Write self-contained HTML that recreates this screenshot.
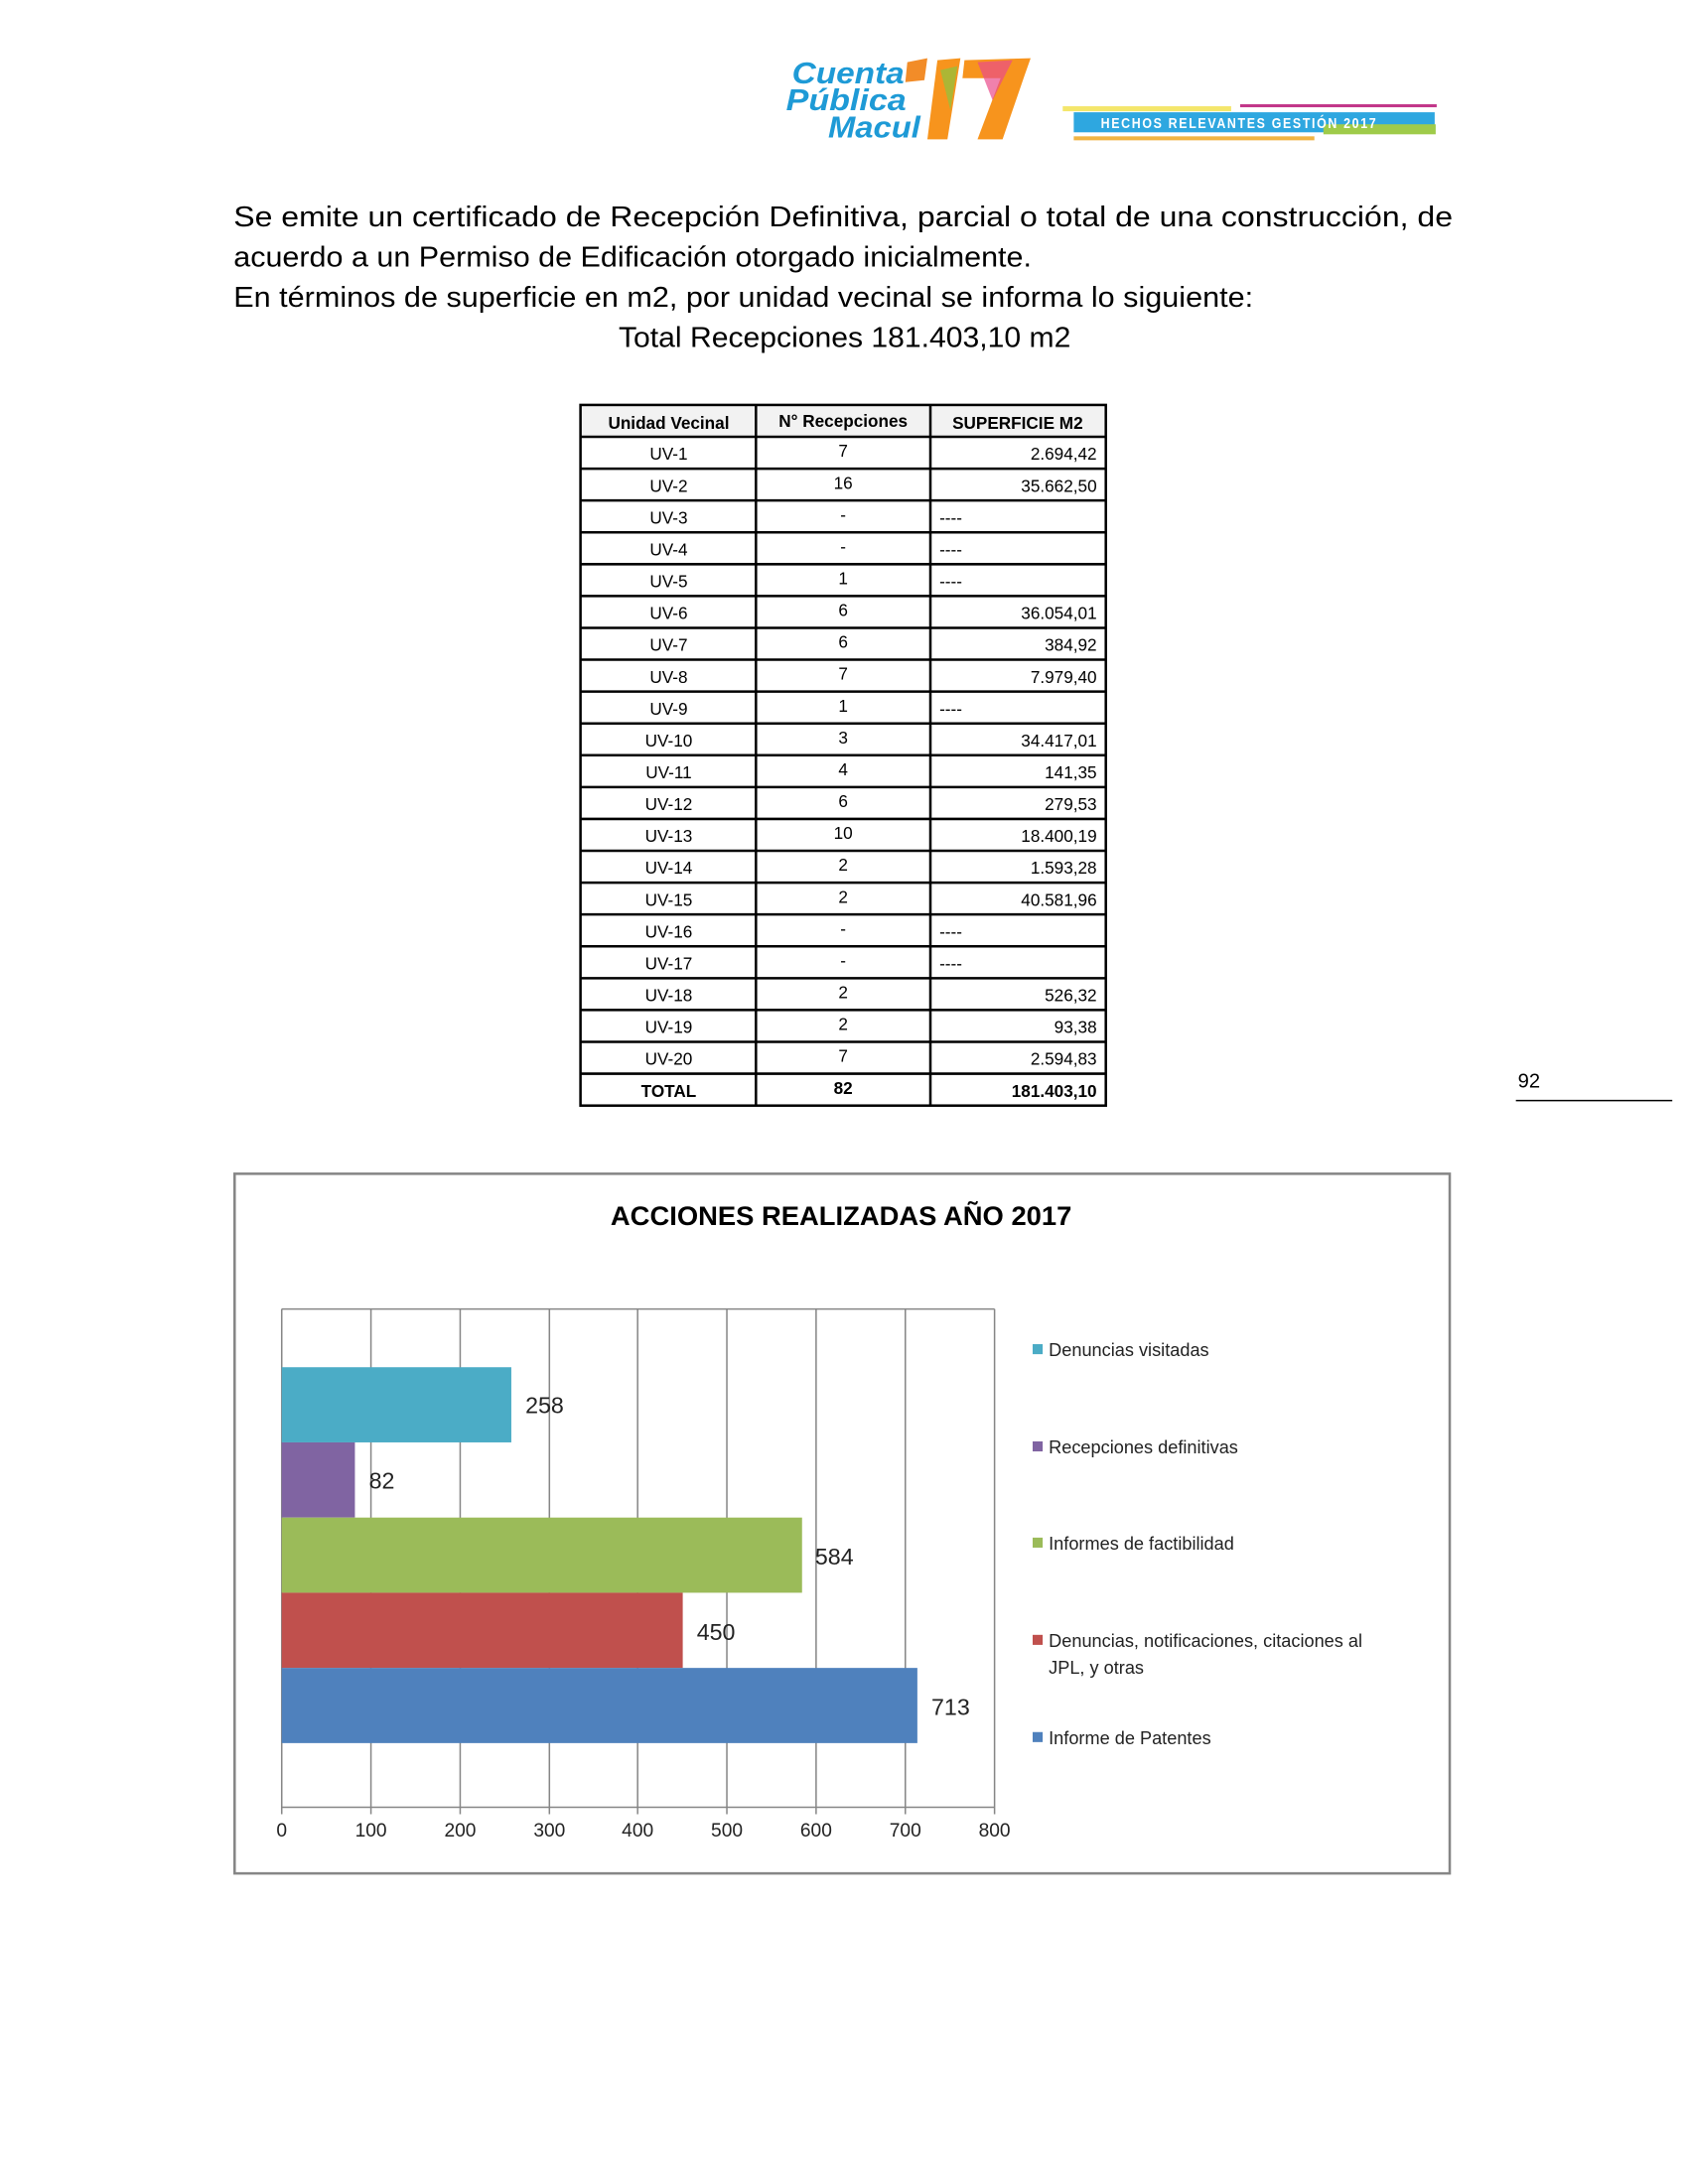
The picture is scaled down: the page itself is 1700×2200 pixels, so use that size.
<!DOCTYPE html>
<html><head><meta charset="utf-8"><style>
html,body{margin:0;padding:0;background:#fff;}
svg{display:block;}
</style></head><body>
<svg width="1700" height="2200" viewBox="0 0 1700 2200" xmlns="http://www.w3.org/2000/svg" font-family="Liberation Sans, sans-serif">
<rect width="1700" height="2200" fill="#fff"/>
<g transform="scale(1.0097)">
<!-- logo -->
<g font-family="Liberation Sans, sans-serif" font-weight="bold" font-style="italic" fill="#1e9ad6">
<text x="790" y="83" font-size="30" textLength="112" lengthAdjust="spacingAndGlyphs">Cuenta</text>
<text x="784" y="110" font-size="30" textLength="120" lengthAdjust="spacingAndGlyphs">Pública</text>
<text x="826" y="137" font-size="30" textLength="92" lengthAdjust="spacingAndGlyphs">Macul</text>
</g>
<path d="M905 62 L925 58 L922 80 L903 82 Z" fill="#f28c28"/>
<path d="M935 60 L958 58 L945 139 L925 139 Z" fill="#f7941d"/>
<path d="M962 60 L1028 58 L1022 75 L1000 139 L975 139 L998 78 L960 78 Z" fill="#f7941d"/>
<path d="M975 62 L1010 60 L990 100 Z" fill="#e94b8a" opacity="0.7"/>
<path d="M938 70 L955 66 L948 110 Z" fill="#8bc540" opacity="0.7"/>
<rect x="1060" y="106" width="168" height="5" fill="#f4e66b"/>
<rect x="1237" y="104" width="196" height="3" fill="#c2378a"/>
<rect x="1071" y="112" width="360" height="20" fill="#2ea7e0"/>
<rect x="1320" y="124" width="112" height="10" fill="#9fcb4a"/>
<rect x="1071" y="136" width="240" height="4" fill="#f0b444"/>
<text x="1098" y="128" font-size="15" fill="#fff" font-weight="bold" textLength="276" lengthAdjust="spacingAndGlyphs" letter-spacing="2">HECHOS RELEVANTES GESTIÓN 2017</text>
<!-- paragraph -->
<g font-size="28" fill="#000">
<text x="233" y="226" textLength="1216" lengthAdjust="spacingAndGlyphs">Se emite un certificado de Recepción Definitiva, parcial o total de una construcción, de</text>
<text x="233" y="266" textLength="796" lengthAdjust="spacingAndGlyphs">acuerdo a un Permiso de Edificación otorgado inicialmente.</text>
<text x="233" y="306" textLength="1017" lengthAdjust="spacingAndGlyphs">En términos de superficie en m2, por unidad vecinal se informa lo siguiente:</text>
<text x="617" y="346" textLength="451" lengthAdjust="spacingAndGlyphs">Total Recepciones 181.403,10 m2</text>
</g>
<!-- table -->
<rect x="580" y="405" width="522" height="31" fill="#f2f2f2"/>
<g font-size="17" fill="#000">
<text x="667" y="428" text-anchor="middle" font-weight="bold">Unidad Vecinal</text>
<text x="841" y="426" text-anchor="middle" font-weight="bold">N° Recepciones</text>
<text x="1015" y="428" text-anchor="middle" font-weight="bold">SUPERFICIE M2</text>
</g>
<g id="rows" font-size="17" fill="#000"></g>
<g stroke="#000" stroke-width="2.5" fill="none">
<rect x="579" y="404" width="524" height="699"/>
<line x1="754" y1="404" x2="754" y2="1103"/>
<line x1="928" y1="404" x2="928" y2="1103"/>
</g>
<g id="hlines" stroke="#000" stroke-width="2.5"></g>
<!-- page number -->
<text x="1514" y="1085" font-size="20">92</text>
<line x1="1512" y1="1098" x2="1668" y2="1098" stroke="#000" stroke-width="1.5"/>
<!-- chart -->
<rect x="234" y="1171" width="1212" height="698" fill="#fff" stroke="#868686" stroke-width="2.5"/>
<text x="839" y="1222" font-size="27" font-weight="bold" text-anchor="middle" textLength="460" lengthAdjust="spacingAndGlyphs">ACCIONES REALIZADAS AÑO 2017</text>
<g stroke="#868686" stroke-width="1.5">
<line x1="281" y1="1306" x2="992" y2="1306"/>
<line x1="370" y1="1306" x2="370" y2="1810"/>
<line x1="459" y1="1306" x2="459" y2="1810"/>
<line x1="548" y1="1306" x2="548" y2="1810"/>
<line x1="636" y1="1306" x2="636" y2="1810"/>
<line x1="725" y1="1306" x2="725" y2="1810"/>
<line x1="814" y1="1306" x2="814" y2="1810"/>
<line x1="903" y1="1306" x2="903" y2="1810"/>
<line x1="992" y1="1306" x2="992" y2="1810"/>
<line x1="281" y1="1306" x2="281" y2="1810"/>
<line x1="281" y1="1803" x2="992" y2="1803"/>
</g>
<rect x="281" y="1364" width="229" height="75" fill="#4bacc6"/>
<rect x="281" y="1439" width="73" height="75" fill="#8064a2"/>
<rect x="281" y="1514" width="519" height="75" fill="#9bbb59"/>
<rect x="281" y="1589" width="400" height="75" fill="#c0504d"/>
<rect x="281" y="1664" width="634" height="75" fill="#4f81bd"/>
<g font-size="23" fill="#222">
<text x="524" y="1410">258</text>
<text x="368" y="1485">82</text>
<text x="813" y="1561">584</text>
<text x="695" y="1636">450</text>
<text x="929" y="1711">713</text>
</g>
<g font-size="19" fill="#222" text-anchor="middle">
<text x="281" y="1832">0</text><text x="370" y="1832">100</text><text x="459" y="1832">200</text><text x="548" y="1832">300</text><text x="636" y="1832">400</text><text x="725" y="1832">500</text><text x="814" y="1832">600</text><text x="903" y="1832">700</text><text x="992" y="1832">800</text>
</g>
<g font-size="18" fill="#222">
<rect x="1030" y="1341" width="10" height="10" fill="#4bacc6"/><text x="1046" y="1353">Denuncias visitadas</text>
<rect x="1030" y="1438" width="10" height="10" fill="#8064a2"/><text x="1046" y="1450">Recepciones definitivas</text>
<rect x="1030" y="1534" width="10" height="10" fill="#9bbb59"/><text x="1046" y="1546">Informes de factibilidad</text>
<rect x="1030" y="1631" width="10" height="10" fill="#c0504d"/><text x="1046" y="1643">Denuncias, notificaciones, citaciones al</text>
<text x="1046" y="1670">JPL, y otras</text>
<rect x="1030" y="1728" width="10" height="10" fill="#4f81bd"/><text x="1046" y="1740">Informe de Patentes</text>
</g>
</g>
</svg>
<script>
(function(){
var d=[["UV-1","7","2.694,42"],["UV-2","16","35.662,50"],["UV-3","-","----"],["UV-4","-","----"],["UV-5","1","----"],["UV-6","6","36.054,01"],["UV-7","6","384,92"],["UV-8","7","7.979,40"],["UV-9","1","----"],["UV-10","3","34.417,01"],["UV-11","4","141,35"],["UV-12","6","279,53"],["UV-13","10","18.400,19"],["UV-14","2","1.593,28"],["UV-15","2","40.581,96"],["UV-16","-","----"],["UV-17","-","----"],["UV-18","2","526,32"],["UV-19","2","93,38"],["UV-20","7","2.594,83"],["TOTAL","82","181.403,10"]];
var ns="http://www.w3.org/2000/svg",g=document.getElementById("rows"),h=document.getElementById("hlines");
function t(x,y,s,a,b){var e=document.createElementNS(ns,"text");e.setAttribute("x",x);e.setAttribute("y",y);e.setAttribute("text-anchor",a);if(b)e.setAttribute("font-weight","bold");e.textContent=s;g.appendChild(e);}
var rh=31.77;
for(var i=0;i<d.length;i++){var top=404+rh*(i+1),y=top+23,b=i==20;
t(667,y,d[i][0],"middle",b);t(841,y-3,d[i][1],"middle",b);
if(d[i][2]=="----")t(937,y,d[i][2],"start",b);else t(1094,y,d[i][2],"end",b);
var l=document.createElementNS(ns,"line");l.setAttribute("x1",579);l.setAttribute("x2",1103);l.setAttribute("y1",top);l.setAttribute("y2",top);h.appendChild(l);}
})();
</script>
</body></html>
